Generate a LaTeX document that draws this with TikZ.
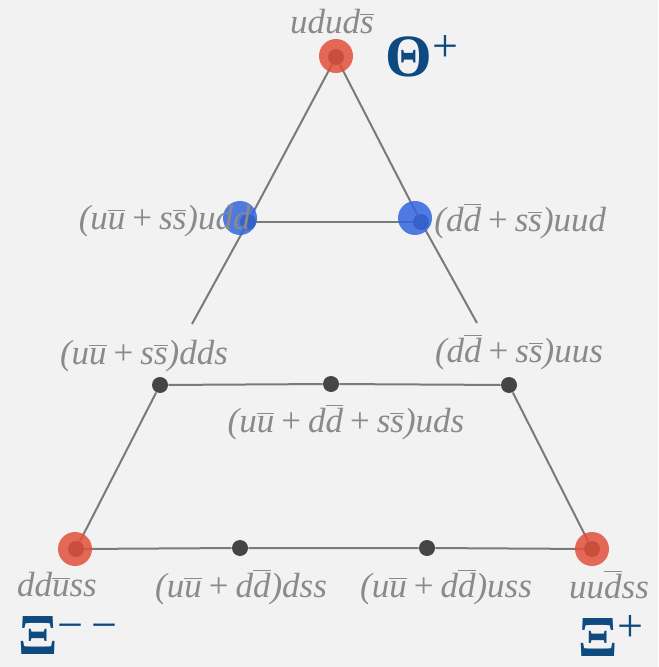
\documentclass[tikz,border=0pt]{standalone}
\usepackage{fontspec}
\setmainfont{Liberation Serif}
\usetikzlibrary{positioning}
\definecolor{bgc}{HTML}{F2F2F2}
\definecolor{linec}{HTML}{7A7A7A}
\definecolor{dotc}{HTML}{454545}
\definecolor{redc}{HTML}{E2503A}
\definecolor{bluec}{HTML}{3366E0}
\definecolor{labc}{HTML}{8A8A8A}
\definecolor{namec}{HTML}{0E4A80}
\newcommand{\qb}[1]{$\overline{\mbox{#1}}$}
\newcommand{\pl}{\hspace{0.2em}{\upshape +}\hspace{0.2em}}
\newcommand{\supr}[1]{\raisebox{0.55ex}{\fontsize{23}{23}\selectfont\mdseries #1}}

\begin{document}
\begin{tikzpicture}[x=0.5pt,y=-0.5pt,
  every node/.style={font=\fontsize{17.5}{19}\selectfont\itshape,text=labc},
  edge/.style={draw=linec,line width=1pt},
  dot/.style={circle,fill=dotc,inner sep=0pt,minimum size=8pt},
  exotic/.style={circle,fill=redc,fill opacity=0.85,inner sep=0pt,minimum size=17pt},
  mixed/.style={circle,fill=bluec,fill opacity=0.85,inner sep=0pt,minimum size=17pt},
  lab/.style={inner sep=0.5pt},
  pname/.style={font=\fontsize{29}{29}\selectfont\bfseries\upshape,text=namec,inner sep=0pt,anchor=west}]
\fill[bgc] (0,0) rectangle (658,667);
\useasboundingbox (0,0) rectangle (658,667);
% vertices
\node[dot] (top) at (336,57) {};
\node[dot] (ml) at (248,222) {};
\node[dot] (mr) at (421,222) {};
\node[dot] (a) at (160,385) {};
\node[dot] (b) at (331,384) {};
\node[dot] (c) at (509,385) {};
\node[dot] (bl) at (76,549) {};
\node[dot] (b1) at (240,548) {};
\node[dot] (b2) at (427,548) {};
\node[dot] (br) at (592,549) {};
\coordinate (endl) at (192,324);
\coordinate (endr) at (477,323);
% lines
\draw[edge] (top) -- (ml) -- (endl);
\draw[edge] (top) -- (mr) -- (endr);
\draw[edge] (ml) -- (mr);
\draw[edge] (a) -- (b) -- (c);
\draw[edge] (a) -- (bl);
\draw[edge] (c) -- (br);
\draw[edge] (bl) -- (b1) -- (b2) -- (br);
% coloured states
\node[exotic] (rtop) at (336,56) {};
\node[exotic] (rl) at (75,549) {};
\node[exotic] (rr) at (592,549) {};
\node[mixed] (bll) at (240,218) {};
\node[mixed] (blr) at (415,218) {};
% labels
\node[lab] (ltop) at (332,22) {udud\qb{s}};
\node[lab,anchor=east] (lml) at (252,221) {(u\qb{u}\pl s\qb{s})udd};
\node[lab,anchor=west] (lmr) at (433,221) {(d\qb{d}\pl s\qb{s})uud};
\node[lab] (la) at (144,356) {(u\qb{u}\pl s\qb{s})dds};
\node[lab] (lc) at (519,352) {(d\qb{d}\pl s\qb{s})uus};
\node[lab] (lb) at (346,422) {(u\qb{u}\pl d\qb{d}\pl s\qb{s})uds};
\node[lab] (lbl) at (57,585) {dd\qb{u}ss};
\node[lab] (lb1) at (241,587) {(u\qb{u}\pl d\qb{d})dss};
\node[lab] (lb2) at (446,587) {(u\qb{u}\pl d\qb{d})uss};
\node[lab] (lbr) at (609,585) {uu\qb{d}ss};
% particle names
\node[pname] (theta) at (385,56) {\fontsize{30}{30}\selectfont Θ\supr{+}};
\node[pname] (xim) at (18,636) {Ξ\supr{−\,−}};
\node[pname] (xip) at (578,636) {Ξ\supr{+}};
\end{tikzpicture}
\end{document}
